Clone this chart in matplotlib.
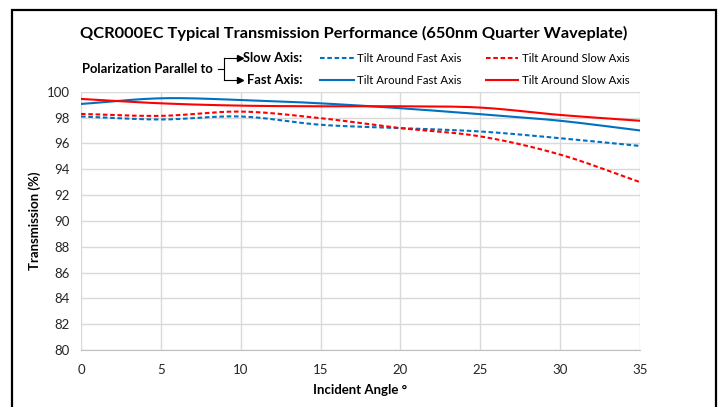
import numpy as np
import matplotlib.pyplot as plt
from matplotlib.lines import Line2D
from matplotlib.patches import Rectangle

plt.rcParams['font.family'] = ['Lato', 'DejaVu Sans']

# incident angle (deg)
angles = [0, 5, 10, 15, 20, 25, 30, 35]

# transmission (%)
slow_tilt_fast = [98.08, 97.85, 98.08, 97.44, 97.18, 96.92, 96.40, 95.80]
slow_tilt_slow = [98.28, 98.13, 98.46, 97.95, 97.18, 96.54, 95.13, 93.00]
fast_tilt_fast = [99.05, 99.49, 99.36, 99.10, 98.72, 98.26, 97.75, 97.00]
fast_tilt_slow = [99.44, 99.10, 98.92, 98.87, 98.87, 98.77, 98.20, 97.75]

yticks = list(range(80, 101, 2))
xticks = list(range(0, 36, 5))

BLUE = '#0070C0'
RED = '#FF0000'
W, H = 721, 407


def smooth(x, y, n=20):
    # Catmull-Rom curve through the points, like Excel's smoothed line
    x = np.asarray(x, float)
    y = np.asarray(y, float)
    px = np.concatenate([[2 * x[0] - x[1]], x, [2 * x[-1] - x[-2]]])
    py = np.concatenate([[2 * y[0] - y[1]], y, [2 * y[-1] - y[-2]]])
    xs, ys = [], []
    t = np.linspace(0, 1, n, endpoint=False)
    for i in range(1, len(px) - 2):
        for p, out in ((px, xs), (py, ys)):
            p0, p1, p2, p3 = p[i - 1], p[i], p[i + 1], p[i + 2]
            out.extend(0.5 * (2 * p1 + (-p0 + p2) * t
                              + (2 * p0 - 5 * p1 + 4 * p2 - p3) * t ** 2
                              + (-p0 + 3 * p1 - 3 * p2 + p3) * t ** 3))
    xs.append(x[-1])
    ys.append(y[-1])
    return xs, ys


def fx(x):
    return x / W


def fy(y):
    return 1 - y / H


fig = plt.figure(figsize=(W / 100, H / 100), dpi=100)
ax = fig.add_axes([fx(81), fy(350), (640 - 81) / W, (350 - 91.7) / H])

dash = (0, (2.2, 1.3))
ax.plot(*smooth(angles, slow_tilt_fast), color=BLUE, lw=1.5, linestyle=dash)
ax.plot(*smooth(angles, slow_tilt_slow), color=RED, lw=1.5, linestyle=dash)
ax.plot(*smooth(angles, fast_tilt_fast), color=BLUE, lw=1.5)
ax.plot(*smooth(angles, fast_tilt_slow), color=RED, lw=1.5)

ax.set_xlim(0, 35)
ax.set_ylim(80, 100)
ax.set_xticks(xticks)
ax.set_yticks(yticks)
ax.grid(True, color='#d9d9d9', lw=1)
ax.set_axisbelow(True)
for s in ax.spines.values():
    s.set_visible(False)
ax.spines['bottom'].set_visible(True)
ax.spines['bottom'].set_color('#bfbfbf')
ax.tick_params(length=0, labelsize=9.5, colors='#262626')
ax.tick_params(axis='x', pad=10)
ax.tick_params(axis='y', pad=8)
ax.set_xlabel('Incident Angle °', fontsize=9.5, fontweight='bold', labelpad=6)
ax.set_ylabel('Transmission (%)', fontsize=9.5, fontweight='bold', labelpad=4)

# outer border (bottom edge runs off the picture)
fig.patches.append(Rectangle((fx(12), fy(420)), (716 - 12) / W, (420 - 10) / H,
                             transform=fig.transFigure, fill=False,
                             edgecolor='black', lw=1.6))

fig.text(fx(354), fy(33), 'QCR000EC Typical Transmission Performance (650nm Quarter Waveplate)',
         ha='center', va='center', fontsize=11.8, fontweight='bold')

# legend block
fig.text(fx(82), fy(69), 'Polarization Parallel to', ha='left', va='center',
         fontsize=9.4, fontweight='bold')
fig.add_artist(Line2D([fx(218), fx(224)], [fy(69), fy(69)], color='black', lw=0.8,
                      transform=fig.transFigure))
fig.add_artist(Line2D([fx(224), fx(224)], [fy(58), fy(80)], color='black', lw=0.8,
                      transform=fig.transFigure))
for yy in (58, 80):
    fig.add_artist(Line2D([fx(224), fx(238)], [fy(yy), fy(yy)], color='black', lw=0.8,
                          transform=fig.transFigure))
    fig.add_artist(Line2D([fx(240)], [fy(yy)], marker='>', markersize=4, color='black',
                          transform=fig.transFigure))
fig.text(fx(243), fy(58), 'Slow Axis:', ha='left', va='center', fontsize=9.3, fontweight='bold')
fig.text(fx(247), fy(80), 'Fast Axis:', ha='left', va='center', fontsize=9.3, fontweight='bold')

for yy, ls in ((58, dash), (80, '-')):
    fig.add_artist(Line2D([fx(320), fx(354)], [fy(yy), fy(yy)], color=BLUE, lw=1.5,
                          linestyle=ls, transform=fig.transFigure))
    fig.text(fx(357), fy(yy), 'Tilt Around Fast Axis', ha='left', va='center', fontsize=8.2)
    fig.add_artist(Line2D([fx(486), fx(518)], [fy(yy), fy(yy)], color=RED, lw=1.5,
                          linestyle=ls, transform=fig.transFigure))
    fig.text(fx(522), fy(yy), 'Tilt Around Slow Axis', ha='left', va='center', fontsize=8.2)

fig.savefig('out.png', dpi=100)
